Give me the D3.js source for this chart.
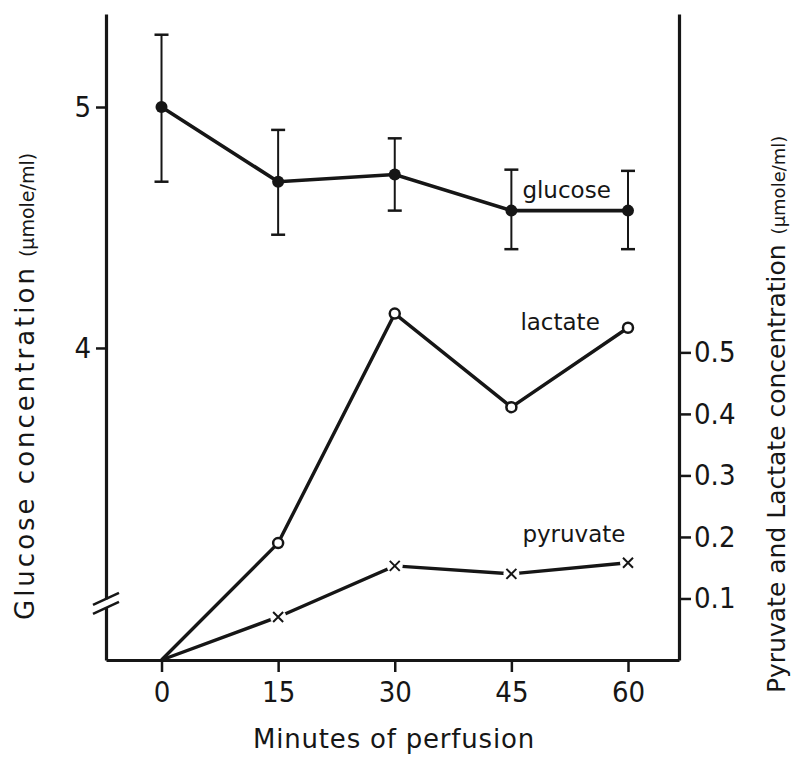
<!DOCTYPE html>
<html>
<head>
<meta charset="utf-8">
<script src="https://cdn.jsdelivr.net/npm/d3@7"></script>
<style>
  body { margin: 0; background: #fff; }
  svg { display: block; }
</style>
</head>
<body>
<script>
// data
var minutes = [0, 15, 30, 45, 60];
var glucoseMean = [5.0, 4.69, 4.72, 4.57, 4.57];
var glucoseUpper = [5.30, 4.905, 4.87, 4.74, 4.735];
var glucoseLower = [4.69, 4.47, 4.57, 4.41, 4.41];
var lactate = [0, 0.19, 0.563, 0.411, 0.54];
var pyruvate = [0, 0.07, 0.153, 0.14, 0.158];
var glucoseTicks = [4, 5];
var rightTicks = [0.1, 0.2, 0.3, 0.4, 0.5];

var W = 793, H = 765;
var ink = "#161616";
var numFont = "'Liberation Sans Narrow', 'DejaVu Sans Condensed', sans-serif";
var txtFont = "'DejaVu Sans', sans-serif";

var svg = d3.select("body").append("svg")
.attr("width", W)
.attr("height", H);

var x = d3.scaleLinear().domain([-7.14, 66.56]).range([106, 679]);
var yL = d3.scaleLinear().domain([2.705, 5.386]).range([660, 14]);
var yR = d3.scaleLinear().domain([0, 1.05]).range([660, 14]);

// axes
var gx = svg.append("g")
.attr("transform", "translate(0,660)")
.call(d3.axisBottom(x).tickValues(minutes).tickSize(12).tickSizeOuter(0).tickPadding(9));

var gl = svg.append("g")
.attr("transform", "translate(106,0)")
.call(d3.axisLeft(yL).tickValues(glucoseTicks).tickSize(10).tickSizeOuter(0).tickPadding(5).tickFormat(d3.format("d")));

var gr = svg.append("g")
.attr("transform", "translate(679,0)")
.call(d3.axisRight(yR).tickValues(rightTicks).tickSize(12).tickSizeOuter(0).tickPadding(3).tickFormat(d3.format(".1f")));

[gx, gl, gr].forEach(function(g) {
  g.select(".domain").attr("stroke", ink).attr("stroke-width", 3.2);
  g.selectAll(".tick line").attr("stroke", ink).attr("stroke-width", 2.5);
  g.selectAll(".tick text")
  .attr("fill", ink)
  .style("font-family", numFont)
  .style("font-size", "29px");
});

// axis break on the glucose axis
var yb = yL(2.94);
svg.append("rect")
.attr("x", 100).attr("y", yb - 4)
.attr("width", 12).attr("height", 8)
.attr("fill", "#fff");
[-4.5, 4.5].forEach(function(o) {
  svg.append("line")
  .attr("x1", 93).attr("y1", yb + o + 6)
  .attr("x2", 119).attr("y2", yb + o - 6)
  .attr("stroke", ink).attr("stroke-width", 2.5);
});

// glucose with error bars
var gIdx = d3.range(minutes.length);
svg.append("g").selectAll("line")
.data(gIdx).join("line")
.attr("x1", function(i) { return x(minutes[i]); })
.attr("x2", function(i) { return x(minutes[i]); })
.attr("y1", function(i) { return yL(glucoseUpper[i]); })
.attr("y2", function(i) { return yL(glucoseLower[i]); })
.attr("stroke", ink).attr("stroke-width", 2);

var caps = svg.append("g");
gIdx.forEach(function(i) {
  [glucoseUpper[i], glucoseLower[i]].forEach(function(v) {
    caps.append("line")
    .attr("x1", x(minutes[i]) - 7).attr("x2", x(minutes[i]) + 7)
    .attr("y1", yL(v)).attr("y2", yL(v))
    .attr("stroke", ink).attr("stroke-width", 2.5);
  });
});

svg.append("path")
.datum(gIdx)
.attr("fill", "none").attr("stroke", ink).attr("stroke-width", 3.6)
.attr("d", d3.line()
  .x(function(i) { return x(minutes[i]); })
  .y(function(i) { return yL(glucoseMean[i]); }));

svg.append("g").selectAll("circle")
.data(gIdx).join("circle")
.attr("cx", function(i) { return x(minutes[i]); })
.attr("cy", function(i) { return yL(glucoseMean[i]); })
.attr("r", 6).attr("fill", ink);

// lactate
svg.append("path")
.datum(gIdx)
.attr("fill", "none").attr("stroke", ink).attr("stroke-width", 3.4)
.attr("d", d3.line()
  .x(function(i) { return x(minutes[i]); })
  .y(function(i) { return yR(lactate[i]); }));

svg.append("g").selectAll("circle")
.data(gIdx.slice(1)).join("circle")
.attr("cx", function(i) { return x(minutes[i]); })
.attr("cy", function(i) { return yR(lactate[i]); })
.attr("r", 5).attr("fill", "#fff")
.attr("stroke", ink).attr("stroke-width", 2.5);

// pyruvate
svg.append("path")
.datum(gIdx)
.attr("fill", "none").attr("stroke", ink).attr("stroke-width", 3.4)
.attr("d", d3.line()
  .x(function(i) { return x(minutes[i]); })
  .y(function(i) { return yR(pyruvate[i]); }));

var px = svg.append("g").selectAll("g")
.data(gIdx.slice(1)).join("g")
.attr("transform", function(i) { return "translate(" + x(minutes[i]) + "," + yR(pyruvate[i]) + ")"; });
px.append("circle").attr("r", 8).attr("fill", "#fff");
px.append("path")
.attr("d", "M-5,-5L5,5M-5,5L5,-5")
.attr("stroke", ink).attr("stroke-width", 2);

// series labels
function label(txt, xx, yy) {
  svg.append("text")
  .attr("x", xx).attr("y", yy)
  .attr("fill", ink)
  .style("font-family", txtFont)
  .style("font-size", "23px")
  .text(txt);
}
label("glucose", x(45) + 11, yL(glucoseMean[3]) - 13);
label("lactate", x(45) + 9, yR(lactate[4]) + 2);
label("pyruvate", x(45) + 11, yR(pyruvate[4]) - 21);

// axis titles
svg.append("text")
.attr("x", 394).attr("y", 748)
.attr("text-anchor", "middle")
.attr("fill", ink)
.style("font-family", txtFont)
.style("font-size", "26px")
.style("letter-spacing", "0.8px")
.text("Minutes of perfusion");

var lt = svg.append("text")
.attr("transform", "translate(34,620) rotate(-90)")
.attr("fill", ink)
.style("font-family", txtFont)
.style("font-size", "26px")
.style("letter-spacing", "3px");
lt.append("tspan").text("Glucose concentration");
lt.append("tspan").attr("dx", 8).style("font-size", "19px").style("letter-spacing", "0px").text("(\u03bcmole/ml)");

var rt = svg.append("text")
.attr("transform", "translate(785,693) rotate(-90)")
.attr("fill", ink)
.style("font-family", txtFont)
.style("font-size", "25px");
rt.append("tspan").text("Pyruvate and Lactate concentration");
rt.append("tspan").attr("dx", 10).style("font-size", "18px").text("(\u03bcmole/ml)");
</script>
</body>
</html>
